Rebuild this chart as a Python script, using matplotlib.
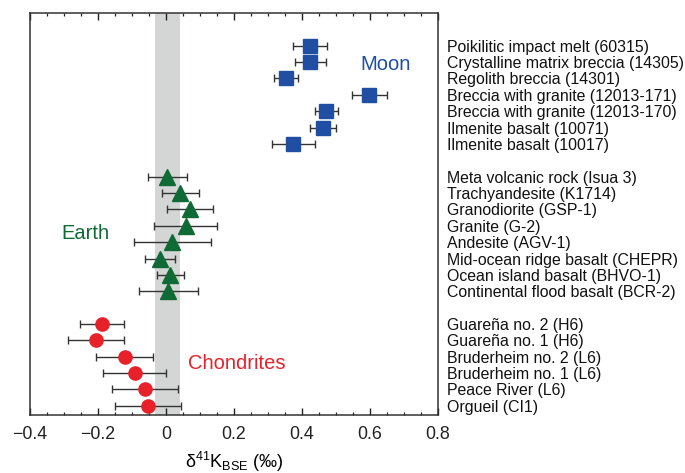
import numpy as np
import matplotlib
matplotlib.use("Agg")
import matplotlib.pyplot as plt
from matplotlib.ticker import MultipleLocator

plt.rcParams['font.family'] = ['Liberation Sans', 'DejaVu Sans']
plt.rcParams['mathtext.fontset'] = 'custom'
plt.rcParams['mathtext.rm'] = 'Liberation Sans'
plt.rcParams['mathtext.it'] = 'Liberation Sans:italic'

# Moon samples
moon_labels = ['Poikilitic impact melt (60315)', 'Crystalline matrix breccia (14305)',
               'Regolith breccia (14301)', 'Breccia with granite (12013-171)',
               'Breccia with granite (12013-170)', 'Ilmenite basalt (10071)',
               'Ilmenite basalt (10017)']
moon_vals = [0.424, 0.425, 0.353, 0.598, 0.472, 0.463, 0.375]
moon_err = [0.050, 0.045, 0.035, 0.052, 0.033, 0.038, 0.062]

# Earth samples
earth_labels = ['Meta volcanic rock (Isua 3)', 'Trachyandesite (K1714)',
                'Granodiorite (GSP-1)', 'Granite (G-2)', 'Andesite (AGV-1)',
                'Mid-ocean ridge basalt (CHEPR)', 'Ocean island basalt (BHVO-1)',
                'Continental flood basalt (BCR-2)']
earth_vals = [0.004, 0.042, 0.070, 0.058, 0.019, -0.017, 0.013, 0.007]
earth_err = [0.057, 0.055, 0.068, 0.092, 0.112, 0.044, 0.039, 0.087]

# Chondrites
chon_labels = ['Guareña no. 2 (H6)', 'Guareña no. 1 (H6)', 'Bruderheim no. 2 (L6)',
               'Bruderheim no. 1 (L6)', 'Peace River (L6)', 'Orgueil (CI1)']
chon_vals = [-0.188, -0.206, -0.121, -0.092, -0.062, -0.054]
chon_err = [0.064, 0.082, 0.084, 0.093, 0.097, 0.097]

# BSE band
bse_lo, bse_hi = -0.032, 0.041

moon_y = np.arange(0, 7)
earth_y = np.arange(8, 16)
chon_y = np.arange(17, 23)

blue = '#1f4ea3'
green = '#0f6a35'
red = '#e8202a'

fig = plt.figure(figsize=(6.85, 4.73), dpi=100)
ax = fig.add_axes([0.0438, 0.1226, 0.5956, 0.8499])

ax.axvspan(bse_lo, bse_hi, color='#d3d6d5', lw=0, zorder=0)

ekw = dict(ecolor='#333333', elinewidth=1.0, capsize=3, capthick=1.0, ls='none')
ax.errorbar(moon_vals, moon_y, xerr=moon_err, marker='s', ms=9.8, mfc=blue, mec=blue, **ekw)
ax.errorbar(earth_vals, earth_y, xerr=earth_err, marker='^', ms=11, mfc=green, mec=green, **ekw)
ax.errorbar(chon_vals, chon_y, xerr=chon_err, marker='o', ms=9.5, mfc=red, mec=red, **ekw)

ax.text(0.571, 1.12, 'Moon', color=blue, fontsize=14.5, va='center', ha='left')
ax.text(-0.309, 11.45, 'Earth', color=green, fontsize=14.5, va='center', ha='left')
ax.text(0.064, 19.4, 'Chondrites', color=red, fontsize=14.5, va='center', ha='left')

ax.set_xlim(-0.4, 0.8)
ax.set_ylim(22.56, -2.0)
ax.xaxis.set_major_locator(MultipleLocator(0.2))
ax.xaxis.set_minor_locator(MultipleLocator(0.05))
ax.set_xticks([-0.4, -0.2, 0, 0.2, 0.4, 0.6, 0.8])
ax.set_xticklabels(['\u22120.4', '\u22120.2', '0', '0.2', '0.4', '0.6', '0.8'])
ax.tick_params(axis='x', which='both', direction='in', top=True, bottom=True,
               colors='#222222', labelsize=12.8, pad=8)
ax.tick_params(axis='x', which='major', length=4.7, width=1.0)
ax.tick_params(axis='x', which='minor', length=2.5, width=0.9)

ax.yaxis.tick_right()
ax.set_yticks(list(moon_y) + list(earth_y) + list(chon_y))
ax.set_yticklabels(moon_labels + earth_labels + chon_labels)
ax.tick_params(axis='y', length=0, pad=6.5, labelsize=11.4, labelcolor='#111111')

for s in ax.spines.values():
    s.set_color('#333333')
    s.set_linewidth(1.1)

ax.set_xlabel(r'$\mathregular{\delta^{41}K_{BSE}}$ (‰)', fontsize=13, labelpad=5)

fig.savefig('out.png', dpi=100)
